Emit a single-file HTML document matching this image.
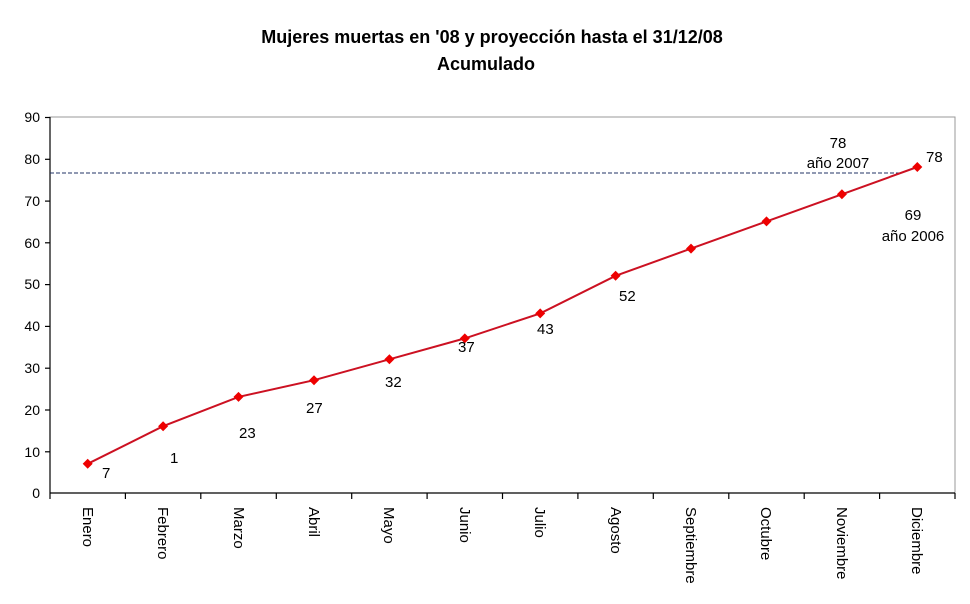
<!DOCTYPE html>
<html><head><meta charset="utf-8"><style>body{margin:0;background:#fff}svg{display:block}text{font-family:"Liberation Sans",Arial,sans-serif}</style></head><body>
<svg width="970" height="604" viewBox="0 0 970 604" xmlns="http://www.w3.org/2000/svg">
<rect width="970" height="604" fill="#fff"/>
<text x="492" y="43" text-anchor="middle" font-size="18" font-weight="bold">Mujeres muertas en '08 y proyección hasta el 31/12/08</text>
<text x="486" y="70" text-anchor="middle" font-size="18" font-weight="bold">Acumulado</text>
<rect x="50" y="117" width="905" height="376" fill="none" stroke="#999" stroke-width="1"/>
<g stroke="#000" stroke-width="1.2">
<line x1="50" y1="117" x2="50" y2="493"/><line x1="50" y1="493" x2="955" y2="493"/>
<line x1="45" y1="117.5" x2="50" y2="117.5"/><line x1="45" y1="159.3" x2="50" y2="159.3"/><line x1="45" y1="201.1" x2="50" y2="201.1"/><line x1="45" y1="242.8" x2="50" y2="242.8"/><line x1="45" y1="284.6" x2="50" y2="284.6"/><line x1="45" y1="326.4" x2="50" y2="326.4"/><line x1="45" y1="368.2" x2="50" y2="368.2"/><line x1="45" y1="410" x2="50" y2="410"/><line x1="45" y1="451.8" x2="50" y2="451.8"/>
<line x1="50" y1="493" x2="50" y2="499"/><line x1="125.4" y1="493" x2="125.4" y2="499"/><line x1="200.8" y1="493" x2="200.8" y2="499"/><line x1="276.3" y1="493" x2="276.3" y2="499"/><line x1="351.7" y1="493" x2="351.7" y2="499"/><line x1="427.1" y1="493" x2="427.1" y2="499"/><line x1="502.5" y1="493" x2="502.5" y2="499"/><line x1="577.9" y1="493" x2="577.9" y2="499"/><line x1="653.3" y1="493" x2="653.3" y2="499"/><line x1="728.8" y1="493" x2="728.8" y2="499"/><line x1="804.2" y1="493" x2="804.2" y2="499"/><line x1="879.6" y1="493" x2="879.6" y2="499"/><line x1="955" y1="493" x2="955" y2="499"/>
</g>
<g font-size="14" text-anchor="end">
<text x="40" y="122">90</text><text x="40" y="164">80</text><text x="40" y="206">70</text><text x="40" y="248">60</text><text x="40" y="289">50</text><text x="40" y="331">40</text><text x="40" y="373">30</text><text x="40" y="415">20</text><text x="40" y="457">10</text><text x="40" y="498">0</text>
</g>
<g font-size="15">
<text transform="translate(83,507) rotate(90)">Enero</text>
<text transform="translate(158,507) rotate(90)">Febrero</text>
<text transform="translate(234,507) rotate(90)">Marzo</text>
<text transform="translate(309,507) rotate(90)">Abril</text>
<text transform="translate(384,507) rotate(90)">Mayo</text>
<text transform="translate(460,507) rotate(90)">Junio</text>
<text transform="translate(535,507) rotate(90)">Julio</text>
<text transform="translate(611,507) rotate(90)">Agosto</text>
<text transform="translate(686,507) rotate(90)">Septiembre</text>
<text transform="translate(761,507) rotate(90)">Octubre</text>
<text transform="translate(837,507) rotate(90)">Noviembre</text>
<text transform="translate(912,507) rotate(90)">Diciembre</text>
</g>
<line x1="50" y1="173" x2="900" y2="173" stroke="#223366" stroke-width="1" stroke-dasharray="4,2"/>
<polyline fill="none" stroke="#cc1122" stroke-width="2" points="87.7,463.8 163.1,426.2 238.5,396.9 314,380.2 389.4,359.3 464.8,338.4 540.2,313.4 615.6,275.8 691,248.6 766.5,221.4 841.9,194.3 917.3,167"/>
<g fill="#ee0000">
<path d="M87.7,458.8l5,5l-5,5l-5,-5z"/><path d="M163.1,421.2l5,5l-5,5l-5,-5z"/><path d="M238.5,391.9l5,5l-5,5l-5,-5z"/><path d="M314,375.2l5,5l-5,5l-5,-5z"/><path d="M389.4,354.3l5,5l-5,5l-5,-5z"/><path d="M464.8,333.4l5,5l-5,5l-5,-5z"/><path d="M540.2,308.4l5,5l-5,5l-5,-5z"/><path d="M615.6,270.8l5,5l-5,5l-5,-5z"/><path d="M691,243.6l5,5l-5,5l-5,-5z"/><path d="M766.5,216.4l5,5l-5,5l-5,-5z"/><path d="M841.9,189.3l5,5l-5,5l-5,-5z"/><path d="M917.3,162l5,5l-5,5l-5,-5z"/>
</g>
<g font-size="15">
<text x="102" y="478">7</text><text x="170" y="463">1</text><text x="239" y="438">23</text><text x="306" y="413">27</text><text x="385" y="387">32</text><text x="458" y="352">37</text><text x="537" y="334">43</text><text x="619" y="301">52</text>
<text x="926" y="162">78</text>
<text x="838" y="148" text-anchor="middle">78</text><text x="838" y="168" text-anchor="middle">año 2007</text>
<text x="913" y="220" text-anchor="middle">69</text><text x="913" y="241" text-anchor="middle">año 2006</text>
</g>
</svg>
</body></html>
